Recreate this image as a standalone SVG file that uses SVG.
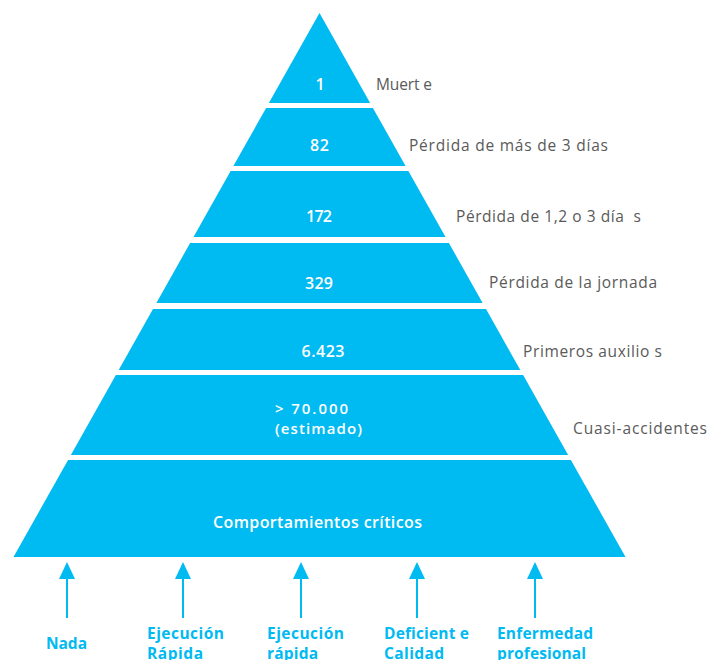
<svg xmlns="http://www.w3.org/2000/svg" width="708" height="660" viewBox="0 0 708 660">
<style>
.band{fill:#00BAF2;}
.num{font-family:"Open Sans","Liberation Sans",sans-serif;font-size:16px;font-weight:600;fill:#ffffff;text-anchor:middle;}
.numl{font-family:"Open Sans","Liberation Sans",sans-serif;font-size:15px;font-weight:600;fill:#ffffff;}
.lbl{font-family:"Open Sans","Liberation Sans",sans-serif;font-size:15.5px;fill:#5a5a5a;white-space:pre;}
.cause{font-family:"Open Sans","Liberation Sans",sans-serif;font-size:15.5px;font-weight:700;fill:#00BAF2;white-space:pre;}
.arr{stroke:#00BAF2;stroke-width:2;fill:none;}
</style>
<defs>
<marker id="ah" markerWidth="9" markerHeight="8" refX="1" refY="4" orient="auto" markerUnits="strokeWidth">
<path d="M0,0 L8.5,4 L0,8 Z" fill="#00BAF2"/>
</marker>
</defs>
<rect width="708" height="660" fill="#ffffff"/>
<g id="n1">
<polygon class="band" points="319.5,13 370.1,103 268.9,103"/>
<text class="num" x="320" y="90">1</text>
<text class="lbl" x="376" y="90" textLength="56" lengthAdjust="spacing">Muert e</text>
</g>
<g id="n2">
<polygon class="band" points="266.1,108 372.9,108 405.6,166 233.4,166"/>
<text class="num" x="319.5" y="151" textLength="19" lengthAdjust="spacing">82</text>
<text class="lbl" x="409" y="151" textLength="199" lengthAdjust="spacing">Pérdida de más de 3 días</text>
</g>
<g id="n3">
<polygon class="band" points="230.6,171 408.4,171 445.5,237 193.5,237"/>
<text class="num" x="319" y="222" textLength="26" lengthAdjust="spacing">172</text>
<text class="lbl" x="456" y="222" textLength="185" lengthAdjust="spacing">Pérdida de 1,2 o 3 día  s</text>
</g>
<g id="n4">
<polygon class="band" points="190.1,243 448.9,243 482.6,303 156.4,303"/>
<text class="num" x="319" y="289" textLength="28" lengthAdjust="spacing">329</text>
<text class="lbl" x="489" y="288" textLength="168" lengthAdjust="spacing">Pérdida de la jornada</text>
</g>
<g id="n5">
<polygon class="band" points="153,309 486,309 520.3,370 118.7,370"/>
<text class="num" x="323" y="357" textLength="43" lengthAdjust="spacing">6.423</text>
<text class="lbl" x="523" y="357" textLength="139" lengthAdjust="spacing">Primeros auxilio s</text>
</g>
<g id="n6">
<polygon class="band" points="115.9,375 523.1,375 568.1,455 70.9,455"/>
<text class="numl" x="275" y="414" textLength="73" lengthAdjust="spacing">&gt; 70.000</text>
<text class="numl" x="275" y="434" textLength="87" lengthAdjust="spacing">(estimado)</text>
<text class="lbl" x="573" y="434" textLength="134" lengthAdjust="spacing">Cuasi-accidentes</text>
</g>
<g id="n7">
<polygon class="band" points="68.1,460 570.9,460 625.5,557 13.5,557"/>
<text class="num" x="317.5" y="528" textLength="209" lengthAdjust="spacing">Comportamientos críticos</text>
</g>
<g id="connectors">
<line class="arr" x1="67" y1="618" x2="67" y2="577" marker-end="url(#ah)"/>
<line class="arr" x1="183" y1="618" x2="183" y2="577" marker-end="url(#ah)"/>
<line class="arr" x1="301" y1="618" x2="301" y2="577" marker-end="url(#ah)"/>
<line class="arr" x1="417" y1="618" x2="417" y2="577" marker-end="url(#ah)"/>
<line class="arr" x1="535" y1="618" x2="535" y2="577" marker-end="url(#ah)"/>
</g>
<g id="c1"><text class="cause" x="46" y="649" textLength="41" lengthAdjust="spacing">Nada</text></g>
<g id="c2"><text class="cause" x="147" y="639" textLength="77" lengthAdjust="spacing">Ejecución</text><text class="cause" x="147" y="659" textLength="56" lengthAdjust="spacing">Rápida</text></g>
<g id="c3"><text class="cause" x="267" y="639" textLength="77" lengthAdjust="spacing">Ejecución</text><text class="cause" x="267" y="659" textLength="51" lengthAdjust="spacing">rápida</text></g>
<g id="c4"><text class="cause" x="384" y="639" textLength="85" lengthAdjust="spacing">Deficient e</text><text class="cause" x="384" y="659" textLength="60" lengthAdjust="spacing">Calidad</text></g>
<g id="c5"><text class="cause" x="497" y="639" textLength="96" lengthAdjust="spacing">Enfermedad</text><text class="cause" x="497" y="659" textLength="89" lengthAdjust="spacing">profesional</text></g>
</svg>
